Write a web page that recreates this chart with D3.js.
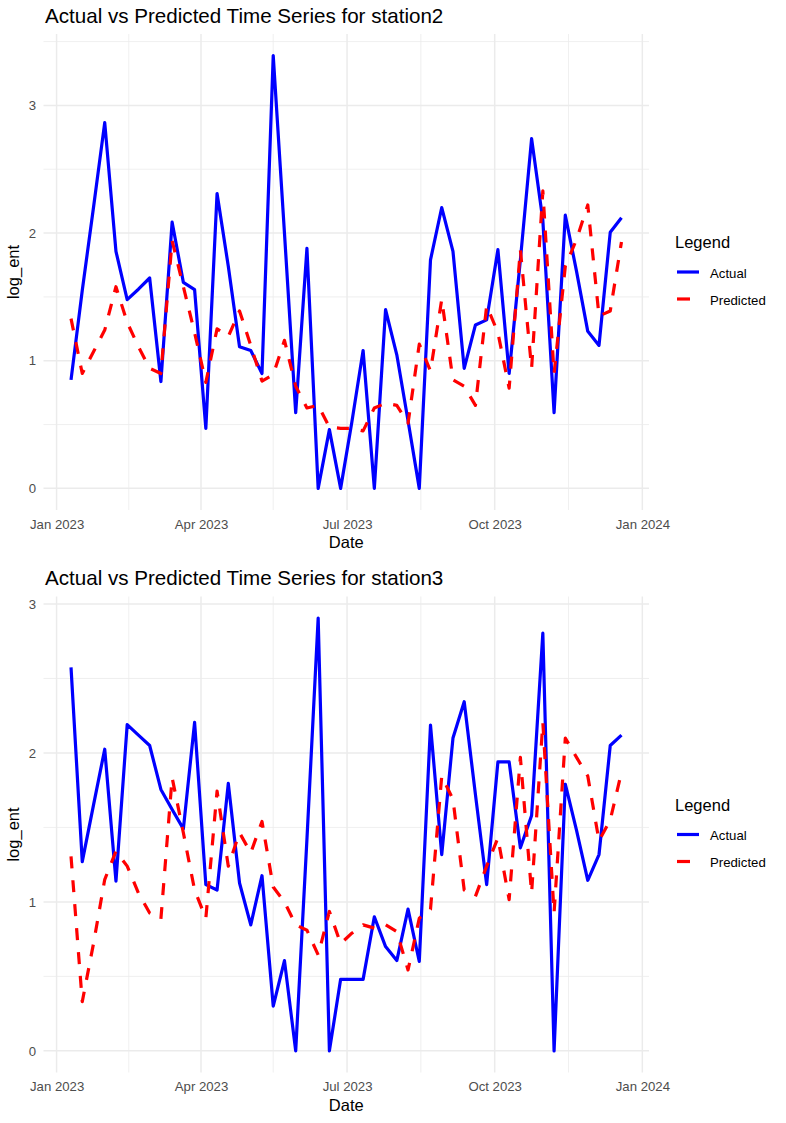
<!DOCTYPE html>
<html>
<head>
<meta charset="utf-8">
<script src="https://cdn.jsdelivr.net/npm/d3@7/dist/d3.min.js"></script>
<style>
  html, body { margin: 0; padding: 0; background: #ffffff; }
  svg { display: block; font-family: "Liberation Sans", Arial, Helvetica, sans-serif; }
</style>
</head>
<body>
<script>
// ---------------- DATA ----------------
const dates = [
  "2023-01-10","2023-01-17","2023-01-24","2023-01-31","2023-02-07","2023-02-14","2023-02-21","2023-02-28",
  "2023-03-07","2023-03-14","2023-03-21","2023-03-28","2023-04-04","2023-04-11","2023-04-18","2023-04-25",
  "2023-05-02","2023-05-09","2023-05-16","2023-05-23","2023-05-30","2023-06-06","2023-06-13","2023-06-20",
  "2023-06-27","2023-07-04","2023-07-11","2023-07-18","2023-07-25","2023-08-01","2023-08-08","2023-08-15",
  "2023-08-22","2023-08-29","2023-09-05","2023-09-12","2023-09-19","2023-09-26","2023-10-03","2023-10-10",
  "2023-10-17","2023-10-24","2023-10-31","2023-11-07","2023-11-14","2023-11-21","2023-11-28","2023-12-05",
  "2023-12-12","2023-12-19"
];

const station2Actual = [0.85, 1.55, 2.2, 2.865, 1.857, 1.478, 1.56, 1.648, 0.837, 2.085,
  1.614, 1.557, 0.47, 2.31, 1.74, 1.11, 1.08, 0.90, 3.39, 2.0,
  0.594, 1.88, 0, 0.46, 0, 0.52, 1.08, 0, 1.40, 1.046,
  0.53, 0, 1.79, 2.20, 1.857, 0.94, 1.28, 1.32, 1.87, 0.90,
  1.79, 2.74, 2.1, 0.593, 2.14, 1.70, 1.23, 1.12, 2.006, 2.12];

const station2Predicted = [1.33, 0.90, 1.07, 1.24, 1.58, 1.30, 1.11, 0.94, 0.90, 1.94,
  1.58, 1.22, 0.83, 1.25, 1.19, 1.39, 1.12, 0.84, 0.89, 1.16,
  0.80, 0.63, 0.65, 0.48, 0.47, 0.47, 0.45, 0.63, 0.667, 0.65,
  0.51, 1.13, 0.92, 1.48, 0.85, 0.80, 0.65, 1.43, 1.22, 0.785,
  1.87, 0.94, 2.33, 0.90, 1.74, 1.95, 2.22, 1.35, 1.39, 1.93];

const station3Actual = [2.575, 1.27, 1.65, 2.025, 1.14, 2.19, 2.12, 2.05, 1.755, 1.62,
  1.49, 2.205, 1.116, 1.08, 1.796, 1.127, 0.846, 1.176, 0.30, 0.606,
  0, 1.42, 2.905, 0, 0.48, 0.48, 0.48, 0.90, 0.70, 0.606,
  0.952, 0.60, 2.187, 1.318, 2.10, 2.344, 1.72, 1.116, 1.94, 1.94,
  1.363, 1.58, 2.804, 0, 1.79, 1.48, 1.145, 1.318, 2.05, 2.12];

const station3Predicted = [1.306, 0.33, 0.72, 1.15, 1.34, 1.24, 1.06, 0.925, 0.885, 1.834,
  1.464, 1.08, 0.89, 1.744, 1.24, 1.464, 1.33, 1.54, 1.10, 1.00,
  0.846, 0.81, 0.644, 0.936, 0.72, 0.79, 0.846, 0.824, 0.846, 0.80,
  0.543, 0.89, 0.95, 1.845, 1.688, 1.08, 1.037, 1.24, 1.43, 1.015,
  1.97, 1.06, 2.205, 0.925, 2.10, 1.97, 1.845, 1.41, 1.55, 1.87];

const xTickDates = ["2023-01-01", "2023-04-01", "2023-07-01", "2023-10-01", "2024-01-01"];
const xMinorDates = ["2023-02-15", "2023-05-16", "2023-08-16", "2023-11-16"];
const yTicks = [0, 1, 2, 3];
const yMinorTicks = [0.5, 1.5, 2.5, 3.5];
const legendLabels = ["Actual", "Predicted"];
const seriesColors = ["#0000ff", "#ff0000"];
const stations = ["station2", "station3"];

// ---------------- LAYOUT ----------------
const W = 786, H = 1123;
const P = { left: 43.5, right: 649, top: 34, bottom: 510 };
const chartOffsets = [0, 562.5];
const parse = d3.utcParse("%Y-%m-%d");
const fmt = d3.utcFormat("%b %Y");

const svg = d3.select("body").append("svg")
  .attr("width", W).attr("height", H)
  .attr("viewBox", `0 0 ${W} ${H}`);

function drawChart(offsetY, station, actual, predicted) {
  const g = svg.append("g").attr("transform", `translate(0,${offsetY})`);
  const data = dates.map((d, i) => ({ date: parse(d), actual: actual[i], predicted: predicted[i] }));

  const xe = d3.extent(data, d => d.date);
  const xs = xe[1] - xe[0];
  const x = d3.scaleUtc()
    .domain([new Date(+xe[0] - 0.05 * xs), new Date(+xe[1] + 0.05 * xs)])
    .range([P.left, P.right]);

  const ye = d3.extent(actual.concat(predicted));
  const ys = ye[1] - ye[0];
  const y = d3.scaleLinear()
    .domain([ye[0] - 0.05 * ys, ye[1] + 0.05 * ys])
    .range([P.bottom, P.top]);

  const yd = y.domain();
  const grid = g.append("g");
  // minor grid
  grid.selectAll(".ymin").data(yMinorTicks.filter(v => v >= yd[0] && v <= yd[1])).join("line")
    .attr("x1", P.left).attr("x2", P.right)
    .attr("y1", d => y(d)).attr("y2", d => y(d))
    .attr("stroke", "#ebebeb").attr("stroke-width", 0.8);
  grid.selectAll(".xmin").data(xMinorDates.map(parse)).join("line")
    .attr("y1", P.top).attr("y2", P.bottom)
    .attr("x1", d => x(d)).attr("x2", d => x(d))
    .attr("stroke", "#ebebeb").attr("stroke-width", 0.8);
  // major grid
  grid.selectAll(".ymaj").data(yTicks).join("line")
    .attr("x1", P.left).attr("x2", P.right)
    .attr("y1", d => y(d)).attr("y2", d => y(d))
    .attr("stroke", "#ebebeb").attr("stroke-width", 1.5);
  grid.selectAll(".xmaj").data(xTickDates.map(parse)).join("line")
    .attr("y1", P.top).attr("y2", P.bottom)
    .attr("x1", d => x(d)).attr("x2", d => x(d))
    .attr("stroke", "#ebebeb").attr("stroke-width", 1.5);

  // axes
  const xAxis = g.append("g").attr("transform", `translate(0,${P.bottom})`)
    .call(d3.axisBottom(x).tickValues(xTickDates.map(parse)).tickFormat(fmt).tickSize(0).tickPadding(9.5));
  xAxis.select(".domain").remove();
  xAxis.selectAll("text").attr("fill", "#4d4d4d").style("font-size", "13.2px")
    .style("font-family", "'Liberation Sans', Arial, sans-serif");

  const yAxis = g.append("g").attr("transform", `translate(${P.left},0)`)
    .call(d3.axisLeft(y).tickValues(yTicks).tickFormat(d3.format("d")).tickSize(0).tickPadding(7.5));
  yAxis.select(".domain").remove();
  yAxis.selectAll("text").attr("fill", "#4d4d4d").style("font-size", "13.2px")
    .style("font-family", "'Liberation Sans', Arial, sans-serif");

  // lines
  const lineA = d3.line().x(d => x(d.date)).y(d => y(d.actual));
  const lineP = d3.line().x(d => x(d.date)).y(d => y(d.predicted));
  g.append("path").datum(data).attr("d", lineA)
    .attr("fill", "none").attr("stroke", seriesColors[0]).attr("stroke-width", 3.2)
    .attr("stroke-linejoin", "round");
  g.append("path").datum(data).attr("d", lineP)
    .attr("fill", "none").attr("stroke", seriesColors[1]).attr("stroke-width", 3.2)
    .attr("stroke-dasharray", "12,12").attr("stroke-linejoin", "round");

  // titles
  g.append("text").attr("x", 45).attr("y", 22.5)
    .attr("fill", "#000").style("font-size", "20.6px")
    .text(`Actual vs Predicted Time Series for ${station}`);
  g.append("text").attr("x", (P.left + P.right) / 2).attr("y", 548)
    .attr("text-anchor", "middle").attr("fill", "#000").style("font-size", "16.5px")
    .text("Date");
  g.append("text").attr("transform", `translate(19,${(P.top + P.bottom) / 2}) rotate(-90)`)
    .attr("text-anchor", "middle").attr("fill", "#000").style("font-size", "16.5px")
    .text("log_ent");

  // legend
  const cy = (P.top + P.bottom) / 2;
  const lg = g.append("g");
  lg.append("text").attr("x", 675).attr("y", cy - 23.7)
    .attr("fill", "#000").style("font-size", "16.5px").text("Legend");
  legendLabels.forEach((lab, i) => {
    const ky = cy + i * 27;
    lg.append("line").attr("x1", 677).attr("x2", 699).attr("y1", ky).attr("y2", ky)
      .attr("stroke", seriesColors[i]).attr("stroke-width", 3.2)
      .attr("stroke-dasharray", i === 1 ? "13,11" : null);
    lg.append("text").attr("x", 710).attr("y", ky + 5.5)
      .attr("fill", "#000").style("font-size", "13.2px").text(lab);
  });
}

drawChart(chartOffsets[0], stations[0], station2Actual, station2Predicted);
drawChart(chartOffsets[1], stations[1], station3Actual, station3Predicted);
</script>
</body>
</html>
